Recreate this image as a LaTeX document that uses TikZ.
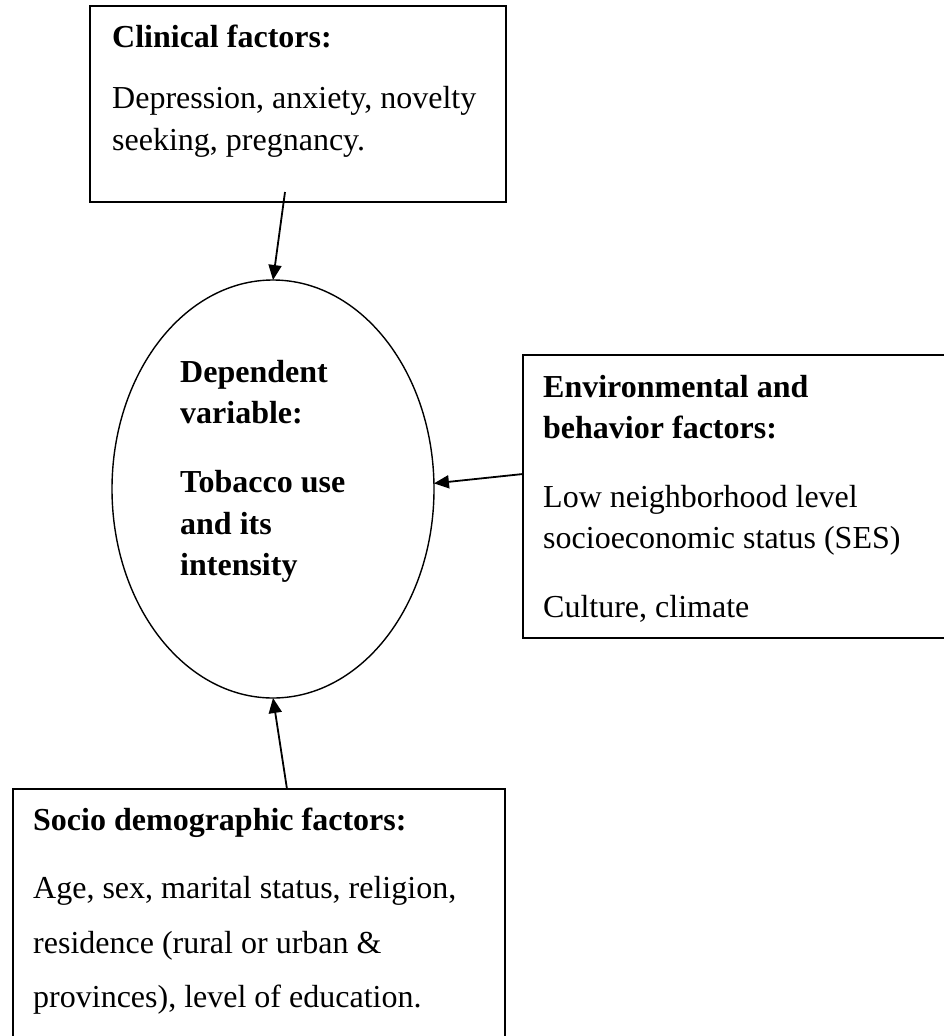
\documentclass[tikz,border=0pt]{standalone}
\usepackage{fontspec}
\setmainfont{Liberation Serif}
\usetikzlibrary{arrows.meta,shapes.geometric}
\begin{document}
\begin{tikzpicture}[x=1pt,y=-1pt,
  every node/.style={font=\fontsize{32}{38}\selectfont},
  box/.style={draw,line width=1.8pt,rectangle,inner sep=0pt,outer sep=0pt},
  oval/.style={draw,line width=1.4pt,ellipse,inner sep=0pt,outer sep=0pt,minimum width=322pt,minimum height=418pt},
  txt/.style={anchor=base west,inner sep=0pt},
  hd/.style={txt,font=\fontsize{32}{38}\selectfont\bfseries},
  arr/.style={line width=1.8pt,-{Triangle[length=15pt,width=13pt]}}
]
\useasboundingbox (0,0) rectangle (943,1036);
\fill[white] (0,0) rectangle (943,1036);

% boxes
\node[box,minimum width=416pt,minimum height=196pt] (clin) at (298,104) {};
\node[box,minimum width=437pt,minimum height=283pt] (env) at (741.5,496.5) {};
\node[box,minimum width=492pt,minimum height=256pt] (soc) at (259,917) {};
\node[oval] (dep) at (273,489) {};

% clinical text
\node[hd] (clinT) at (112,47) {Clinical factors:};
\node[txt] (clin1) at (112,108) {Depression, anxiety, novelty};
\node[txt] (clin2) at (112,150) {seeking, pregnancy.};

% dependent text
\node[hd] (dep1) at (180,382) {Dependent};
\node[hd] (dep2) at (180,423) {variable:};
\node[hd] (dep3) at (180,492) {Tobacco use};
\node[hd] (dep4) at (180,534) {and its};
\node[hd] (dep5) at (180,575) {intensity};

% environmental text
\node[hd] (envT1) at (543,397) {Environmental and};
\node[hd] (envT2) at (543,438) {behavior factors:};
\node[txt] (env1) at (543,507) {Low neighborhood level};
\node[txt] (env2) at (543,548) {socioeconomic status (SES)};
\node[txt] (env3) at (543,617) {Culture, climate};

% socio text
\node[hd] (socT) at (33,830) {Socio demographic factors:};
\node[txt] (soc1) at (33,898) {Age, sex, marital status, religion,};
\node[txt] (soc2) at (33,953) {residence (rural or urban \&};
\node[txt] (soc3) at (33,1007) {provinces), level of education.};

% connectors
\coordinate (cs) at (285,192);
\coordinate (es) at (523,474);
\coordinate (ss) at (287,789);
\draw[arr] (cs) -- (dep.north);
\draw[arr] (es) -- (dep.2);
\draw[arr] (ss) -- (dep.south);
\end{tikzpicture}
\end{document}
